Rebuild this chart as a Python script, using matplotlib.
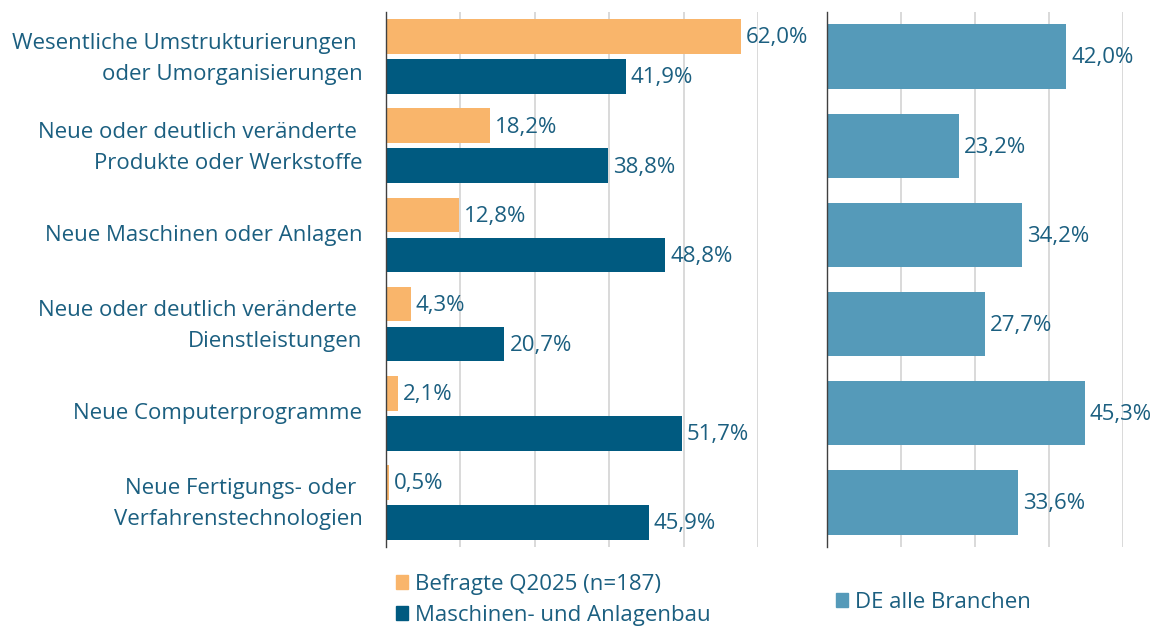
import matplotlib
matplotlib.use("Agg")
import matplotlib.pyplot as plt
from matplotlib.patches import Patch
from matplotlib.transforms import ScaledTranslation

categories = [
    "Wesentliche Umstrukturierungen \noder Umorganisierungen",
    "Neue oder deutlich veränderte \nProdukte oder Werkstoffe",
    "Neue Maschinen oder Anlagen",
    "Neue oder deutlich veränderte \nDienstleistungen",
    "Neue Computerprogramme",
    "Neue Fertigungs- oder \nVerfahrenstechnologien",
]
befragte = [62.0, 18.2, 12.8, 4.3, 2.1, 0.5]
maschinenbau = [41.9, 38.8, 48.8, 20.7, 51.7, 45.9]
de_alle = [42.0, 23.2, 34.2, 27.7, 45.3, 33.6]
series_names = ["Befragte Q2025 (n=187)", "Maschinen- und Anlagenbau", "DE alle Branchen"]

C_OR = "#F9B56B"
C_DB = "#005A80"
C_LB = "#559AB9"
C_TX = "#1B5F80"
C_GR = "#D3D3D3"

plt.rcParams['font.family'] = ['Open Sans', 'DejaVu Sans']
FS = 16

W, H = 1171, 628
fig = plt.figure(figsize=(W / 100, H / 100), dpi=100)

def ax_at(x0, x1, y0, y1):
    return fig.add_axes([x0 / W, 1 - y1 / H, (x1 - x0) / W, (y1 - y0) / H])

axL = ax_at(386, 758, 12, 547)
axR = ax_at(827, 1123, 12, 547)

n = len(categories)
ypos = list(range(n))

def fmt(v):
    return f"{v:.1f}".replace(".", ",") + "%"

# left panel
off = 0.224
hL = 0.39
axL.barh([y - off for y in ypos], befragte, height=hL, color=C_OR, zorder=3)
axL.barh([y + off for y in ypos], maschinenbau, height=hL, color=C_DB, zorder=3)
for y, v in zip(ypos, befragte):
    axL.annotate(fmt(v), (v, y - off), xytext=(3.6, -1), textcoords="offset points",
                 va="center", ha="left", color=C_TX, fontsize=FS, clip_on=False)
for y, v in zip(ypos, maschinenbau):
    axL.annotate(fmt(v), (v, y + off), xytext=(3.6, -1), textcoords="offset points",
                 va="center", ha="left", color=C_TX, fontsize=FS, clip_on=False)

# right panel
axR.barh(ypos, de_alle, height=0.72, color=C_LB, zorder=3)
for y, v in zip(ypos, de_alle):
    axR.annotate(fmt(v), (v, y), xytext=(3.6, -1), textcoords="offset points",
                 va="center", ha="left", color=C_TX, fontsize=FS, clip_on=False)

for ax, xmax in ((axL, 65), (axR, 52)):
    ax.set_xlim(0, xmax)
    ax.set_ylim(n - 0.5, -0.5)
    ax.set_xticks(range(13, xmax + 1, 13))
    ax.xaxis.grid(True, color=C_GR, linewidth=1.2, zorder=0)
    ax.tick_params(axis="both", length=0)
    ax.set_xticklabels([])
    for s in ("top", "right", "bottom"):
        ax.spines[s].set_visible(False)
    ax.spines["left"].set_color("#404040")
    ax.spines["left"].set_linewidth(1.0)
    ax.spines["left"].set_zorder(4)
    ax.set_facecolor("none")

axL.set_yticks(ypos)
axL.set_yticklabels(categories, fontsize=FS, color=C_TX, ha="right", linespacing=1.62)
axL.tick_params(axis="y", pad=17)
for lab in axL.get_yticklabels():
    dy = 5.5 if "\n" in lab.get_text() else 2
    lab.set_transform(lab.get_transform() + ScaledTranslation(0, dy / 100, fig.dpi_scale_trans))
axR.set_yticks([])

# legends
legL = fig.legend(handles=[Patch(color=C_OR), Patch(color=C_DB)], labels=series_names[:2],
                  loc="upper left", bbox_to_anchor=(396 / W, 1 - 574 / H), frameon=False,
                  fontsize=FS, handlelength=0.55, handleheight=0.55, handletextpad=0.3,
                  labelspacing=0.45, borderpad=0, borderaxespad=0)
for t in legL.get_texts():
    t.set_color(C_TX)
legR = fig.legend(handles=[Patch(color=C_LB)], labels=series_names[2:],
                  loc="upper left", bbox_to_anchor=(836 / W, 1 - 592 / H), frameon=False,
                  fontsize=FS, handlelength=0.55, handleheight=0.55, handletextpad=0.3,
                  borderpad=0, borderaxespad=0)
for t in legR.get_texts():
    t.set_color(C_TX)

fig.savefig("out.png", dpi=100)
